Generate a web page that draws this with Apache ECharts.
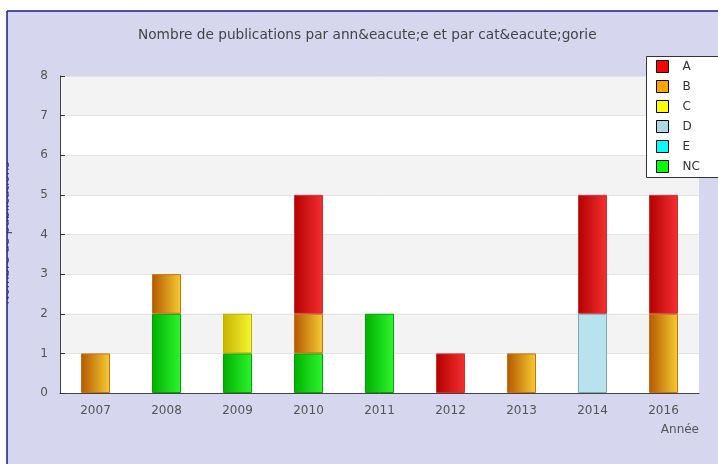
<!DOCTYPE html>
<html>
<head>
<meta charset="utf-8">
<script src="https://cdn.jsdelivr.net/npm/echarts@6/dist/echarts.min.js"></script>
<style>
  html, body { margin: 0; padding: 0; background: #fff; }
  #chart { width: 718px; height: 464px; }
</style>
</head>
<body>
<div id="chart"></div>
<script>
// years shown on the x axis (no 2015)
const years = ['2007', '2008', '2009', '2010', '2011', '2012', '2013', '2014', '2016'];
const yTicks = [0, 1, 2, 3, 4, 5, 6, 7, 8];

// publications per category, one value per year (null = none)
const valuesNC = [null, 2, 1, 1, 2, null, null, null, null];
const valuesE = [null, null, null, null, null, null, null, null, null];
const valuesD = [null, null, null, null, null, null, null, 2, null];
const valuesC = [null, null, 1, null, null, null, null, null, null];
const valuesB = [1, 1, null, 1, null, null, 1, null, 2];
const valuesA = [null, null, null, 3, null, 1, null, 3, 3];

const legendOrder = ['A', 'B', 'C', 'D', 'E', 'NC'];

const chart = echarts.init(document.getElementById('chart'));

function grad(from, to) {
  return new echarts.graphic.LinearGradient(0, 0, 1, 0, [
    { offset: 0, color: from },
    { offset: 1, color: to },
  ]);
}

const categories = [
  { name: 'NC', data: valuesNC, fill: grad('#00b000', '#2ef52e'), border: '#00a000', swatch: '#00ff00' },
  { name: 'E', data: valuesE, fill: grad('#00b0b0', '#30f5f5'), border: '#00a0a0', swatch: '#00ffff' },
  { name: 'D', data: valuesD, fill: '#b8e2ee', border: '#7fa9b6', swatch: '#add8e6' },
  { name: 'C', data: valuesC, fill: grad('#c8b400', '#f7f530'), border: '#c0b000', swatch: '#ffff00' },
  { name: 'B', data: valuesB, fill: grad('#b45800', '#f6cc32'), border: '#c87018', swatch: '#ffa500' },
  { name: 'A', data: valuesA, fill: grad('#b40000', '#f53030'), border: '#d03030', swatch: '#ff0000' },
];

const swatchOf = {};
categories.forEach((c) => { swatchOf[c.name] = c.swatch; });

const option = {
  animation: false,
  textStyle: { fontFamily: 'DejaVu Sans' },
  title: {
    text: 'Nombre de publications par ann&eacute;e et par cat&eacute;gorie',
    left: 133,
    top: 23,
    textStyle: { fontSize: 13.7, fontWeight: 'normal', color: '#444', fontFamily: 'DejaVu Sans' },
  },
  graphic: [
    { type: 'rect', z: -10, silent: true, shape: { x: 7, y: 11, width: 720, height: 460 }, style: { fill: '#d6d6ee' } },
    {
      type: 'text', z: -9, silent: true, x: 6, y: 233, rotation: Math.PI / 2,
      style: { text: 'Nombre de publications', fill: '#555', font: '12px DejaVu Sans', align: 'center', verticalAlign: 'middle' },
    },
    { type: 'rect', z: -8, silent: true, shape: { x: 0, y: 0, width: 7, height: 464 }, style: { fill: '#fff' } },
    { type: 'rect', z: -8, silent: true, shape: { x: 0, y: 0, width: 718, height: 11 }, style: { fill: '#fff' } },
    { type: 'line', z: -7, silent: true, shape: { x1: 7, y1: 11, x2: 7, y2: 464 }, style: { stroke: '#1a1a8c', lineWidth: 1.5 } },
    { type: 'line', z: -7, silent: true, shape: { x1: 7, y1: 11, x2: 718, y2: 11 }, style: { stroke: '#1a1a8c', lineWidth: 1.5 } },
    // legend frame, running off the right edge as in the original
    { type: 'rect', z: 3, silent: true, shape: { x: 646.5, y: 56.5, width: 100, height: 121 }, style: { fill: '#fff', stroke: '#333', lineWidth: 1 } },
  ],
  legend: {
    orient: 'vertical',
    left: 646,
    top: 56,
    padding: [4, 20, 4, 10],
    itemWidth: 12,
    itemHeight: 12,
    itemGap: 7,
    icon: 'rect',
    textStyle: { fontSize: 12, color: '#333', padding: [0, 0, 0, 9] },
    data: legendOrder.map((n) => ({
      name: n,
      itemStyle: { color: swatchOf[n], borderColor: '#000', borderWidth: 1 },
    })),
  },
  grid: { left: 60, right: 19, top: 76, bottom: 71, containLabel: false },
  xAxis: {
    type: 'category',
    data: years,
    name: 'Année',
    nameLocation: 'end',
    nameGap: 0,
    nameTextStyle: { color: '#555', fontSize: 12, align: 'right', verticalAlign: 'top', padding: [31, 0, 0, 0] },
    axisLine: { lineStyle: { color: '#444', width: 1 } },
    axisTick: { inside: true, length: 5, lineStyle: { color: '#333' } },
    axisLabel: { color: '#555', fontSize: 12, margin: 12 },
    splitLine: { show: false },
  },
  yAxis: {
    type: 'value',
    min: yTicks[0],
    max: yTicks[yTicks.length - 1],
    interval: 1,
    axisLine: { show: true, lineStyle: { color: '#444', width: 1 } },
    axisTick: { show: true, inside: true, length: 5, lineStyle: { color: '#333' } },
    axisLabel: { color: '#555', fontSize: 12, margin: 12 },
    splitLine: { show: true, lineStyle: { color: '#e4e4e4' } },
    splitArea: { show: true, areaStyle: { color: ['#ffffff', '#f3f3f3'] } },
  },
  series: categories.map((c) => ({
    name: c.name,
    type: 'bar',
    stack: 'total',
    barWidth: 29,
    data: c.data,
    itemStyle: { color: c.fill, borderColor: c.border, borderWidth: 1 },
  })),
};

chart.setOption(option);
</script>
</body>
</html>
